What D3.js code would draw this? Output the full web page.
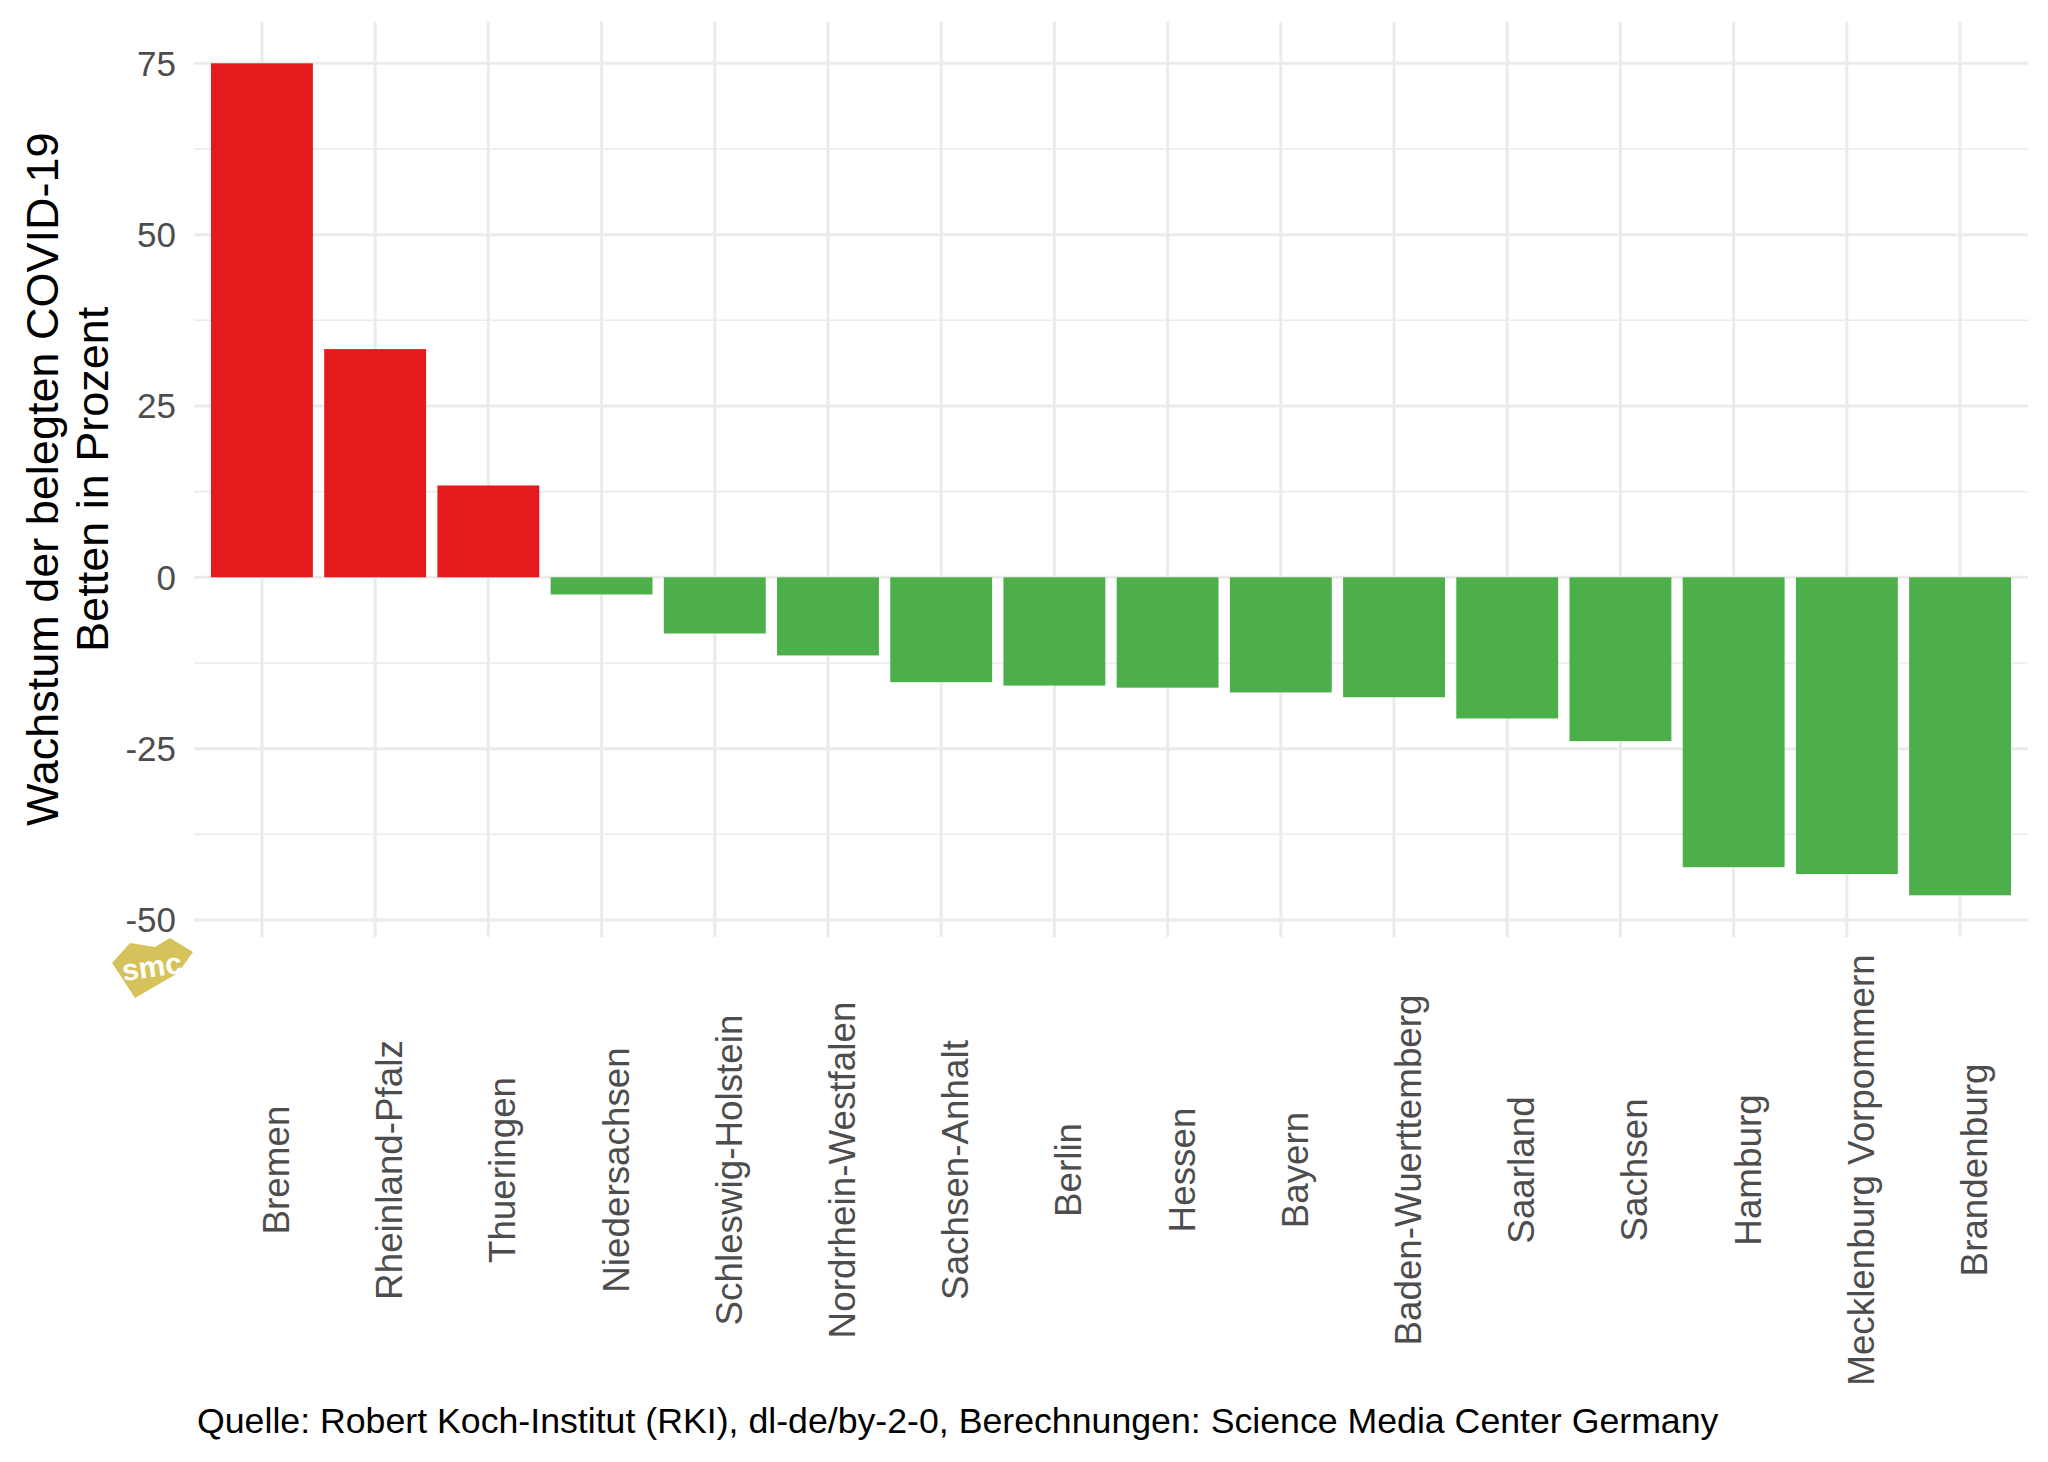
<!DOCTYPE html>
<html>
<head>
<meta charset="utf-8">
<script src="https://cdn.jsdelivr.net/npm/d3@7"></script>
<style>
	body { margin: 0; background: #fff; }
	text { font-family: "Liberation Sans", Arial, sans-serif; }
</style>
</head>
<body>
<div id="chart"></div>
<script>
var states = ['Bremen', 'Rheinland-Pfalz', 'Thueringen', 'Niedersachsen', 'Schleswig-Holstein',
	'Nordrhein-Westfalen', 'Sachsen-Anhalt', 'Berlin', 'Hessen', 'Bayern', 'Baden-Wuerttemberg',
	'Saarland', 'Sachsen', 'Hamburg', 'Mecklenburg Vorpommern', 'Brandenburg'];
var growth = [75.0, 33.3, 13.4, -2.5, -8.2, -11.4, -15.3, -15.8, -16.1, -16.8, -17.5,
	-20.6, -23.9, -42.3, -43.3, -46.4];
var yTicks = [-50, -25, 0, 25, 50, 75];
var yMinor = [-37.5, -12.5, 12.5, 37.5, 62.5];
var yTitle = ['Wachstum der belegten COVID-19', 'Betten in Prozent'];
var caption = 'Quelle: Robert Koch-Institut (RKI), dl-de/by-2-0, Berechnungen: Science Media Center Germany';

function drawChart() {
	var width = 2048,
	    height = 1462,
	    left = 194, right = 2028,
	    top = 21.7, bottom = 936.9;

	var svg = d3.select('#chart').append('svg')
		.attr('width', width)
		.attr('height', height);

	svg.append('rect').attr('width', width).attr('height', height).attr('fill', '#fff');

	// ggplot style 5% expansion on the value axis
	var lo = Math.min(0, d3.min(growth)), hi = Math.max(0, d3.max(growth));
	var pad = (hi - lo) * 0.05;

	var y = d3.scaleLinear().domain([lo - pad, hi + pad]).range([bottom, top]);
	var x = d3.scaleBand().domain(states).range([left, right])
		.paddingInner(0.1).paddingOuter(0.15);

	var grid = svg.append('g');

	grid.selectAll('.minor').data(yMinor).enter()
		.append('line').attr('class', 'minor')
		.attr('x1', left).attr('x2', right)
		.attr('y1', d => y(d)).attr('y2', d => y(d))
		.attr('stroke', '#ebebeb').attr('stroke-width', 1.6);

	grid.selectAll('.major-y').data(yTicks).enter()
		.append('line').attr('class', 'major-y')
		.attr('x1', left).attr('x2', right)
		.attr('y1', d => y(d)).attr('y2', d => y(d))
		.attr('stroke', '#ebebeb').attr('stroke-width', 3);

	grid.selectAll('.major-x').data(states).enter()
		.append('line').attr('class', 'major-x')
		.attr('x1', d => x(d) + x.bandwidth() / 2).attr('x2', d => x(d) + x.bandwidth() / 2)
		.attr('y1', top).attr('y2', bottom)
		.attr('stroke', '#ebebeb').attr('stroke-width', 3);

	svg.append('g').selectAll('rect').data(states).enter()
		.append('rect')
		.attr('x', d => x(d))
		.attr('width', x.bandwidth())
		.attr('y', (d, i) => y(Math.max(0, growth[i])))
		.attr('height', (d, i) => Math.abs(y(growth[i]) - y(0)))
		.attr('fill', (d, i) => growth[i] > 0 ? '#e41a1c' : '#4daf4a');

	// y tick labels
	svg.append('g').selectAll('text').data(yTicks).enter()
		.append('text')
		.attr('x', 176).attr('y', d => y(d) + 12.5)
		.attr('text-anchor', 'end')
		.attr('font-size', 35).attr('fill', '#4d4d4d')
		.text(d => d);

	// x tick labels, rotated
	svg.append('g').selectAll('text').data(states).enter()
		.append('text')
		.attr('transform', d => 'translate(' + (x(d) + x.bandwidth() / 2 + 27) + ',1170) rotate(-90)')
		.attr('text-anchor', 'middle')
		.attr('font-size', 36.8).attr('fill', '#4d4d4d')
		.text(d => d);

	// y axis title
	var mid = (top + bottom) / 2;
	svg.append('g').selectAll('text').data(yTitle).enter()
		.append('text')
		.attr('transform', (d, i) => 'translate(' + (58 + i * 50) + ',' + mid + ') rotate(-90)')
		.attr('text-anchor', 'middle')
		.attr('font-size', 45).attr('fill', '#000')
		.text(d => d);

	svg.append('text')
		.attr('x', 197).attr('y', 1433)
		.attr('font-size', 35.7).attr('fill', '#000')
		.text(caption);

	// smc logo
	var logo = svg.append('g');
	logo.append('path')
		.attr('d', 'M112,963 L130,943 L155,947 L170,938 L193,952 L178,973 L135,998 L120,975 Z')
		.attr('fill', '#d6c25a');
	logo.append('text')
		.attr('x', 152).attr('y', 977)
		.attr('text-anchor', 'middle')
		.attr('font-size', 30).attr('font-weight', 'bold').attr('fill', '#fff')
		.attr('transform', 'rotate(-8,152,968)')
		.text('smc');
}

drawChart();
</script>
</body>
</html>
